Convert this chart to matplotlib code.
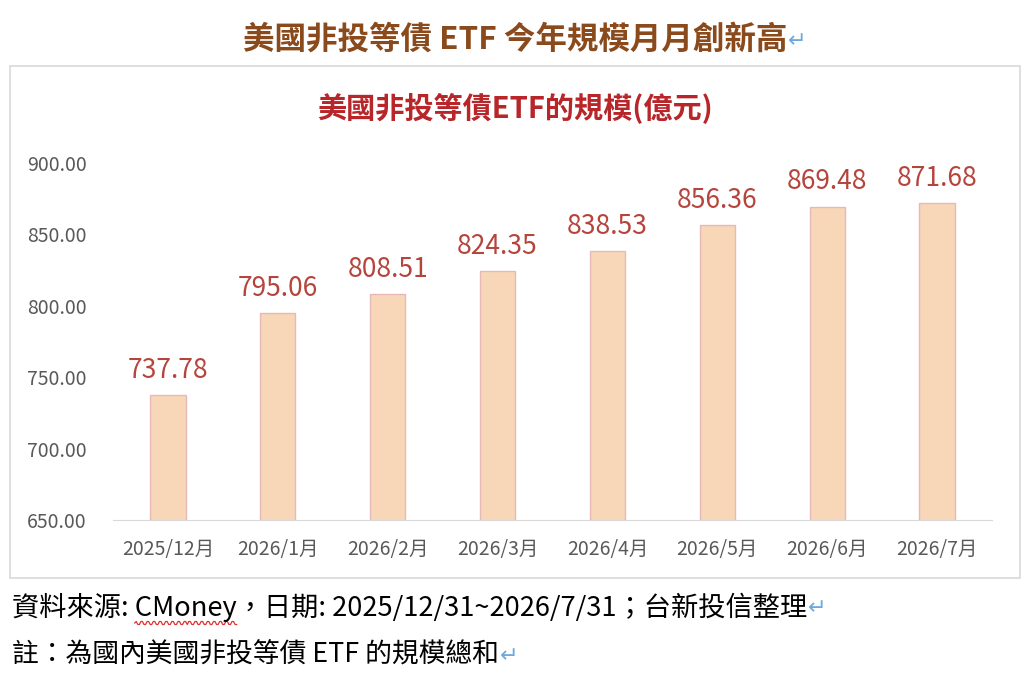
import matplotlib
matplotlib.use("Agg")
import matplotlib.pyplot as plt
import numpy as np
from matplotlib.patches import Rectangle
from matplotlib.lines import Line2D

plt.rcParams['font.family'] = ['Noto Sans CJK TC', 'DejaVu Sans']

categories = ["2025/12月", "2026/1月", "2026/2月", "2026/3月", "2026/4月", "2026/5月", "2026/6月", "2026/7月"]
values = [737.78, 795.06, 808.51, 824.35, 838.53, 856.36, 869.48, 871.68]
yticks = [650, 700, 750, 800, 850, 900]

fig = plt.figure(figsize=(10.24, 6.74), dpi=100)
W, H = 1024, 674

def fx(px): return px / W
def fy(py): return 1 - py / H

# outer chart frame
fig.patches.append(Rectangle((fx(10), fy(578)), fx(1010), (578 - 66) / H,
                             transform=fig.transFigure, fill=False,
                             edgecolor='#D9D9D9', linewidth=1.2))

renderer = fig.canvas.get_renderer()

def text_with_arrow(xp, yp, s, **kw):
    t = fig.text(fx(xp), fy(yp), s, ha='left', va='center', **kw)
    bb = t.get_window_extent(renderer=renderer)
    fig.text(bb.x1 / W + 0.001, fy(yp + 1), "↵", ha='left', va='center',
             fontsize=16, color='#6FA8DC', family=['DejaVu Sans'])
    return t

text_with_arrow(243, 40, "美國非投等債 ETF 今年規模月月創新高",
                fontsize=22.7, fontweight='bold', color='#8B4A1C')

ax = fig.add_axes([fx(113), fy(520), fx(992 - 113), (520 - 163) / H])
x = range(len(categories))
ax.bar(x, values, width=0.32, color='#F8D6B8', edgecolor='#E6B8B7', linewidth=1.0)
ax.set_ylim(650, 900)
ax.set_xlim(-0.5, len(categories) - 0.5)
ax.set_yticks(yticks)
ax.set_yticklabels([f"{v:.2f}" for v in yticks], fontsize=14, color='#595959')
ax.set_xticks(list(x))
ax.set_xticklabels(categories, fontsize=14, color='#595959')
for s in ['top', 'right', 'left']:
    ax.spines[s].set_visible(False)
ax.spines['bottom'].set_color('#D9D9D9')
ax.tick_params(axis='both', length=0)
ax.tick_params(axis='y', pad=19)
ax.tick_params(axis='x', pad=14)
for xi, v in zip(x, values):
    ax.annotate(f"{v:.2f}", (xi, v), xytext=(0, 8), textcoords='offset points',
                ha='center', va='bottom', fontsize=19, color='#B5443C')

fig.text(fx(515), fy(108), "美國非投等債ETF的規模(億元)", ha='center', va='center',
         fontsize=21, fontweight='bold', color='#B8262A')

text_with_arrow(12, 607, "資料來源: CMoney，日期: 2025/12/31~2026/7/31；台新投信整理",
                fontsize=19.6, color='black')
text_with_arrow(12, 655, "註：為國內美國非投等債 ETF 的規模總和",
                fontsize=19.3, color='black')

# red wavy underline under "CMoney"
tmp = fig.text(fx(12), fy(607), "資料來源: ", ha='left', va='center', fontsize=19.6, alpha=0)
tmp2 = fig.text(fx(12), fy(607), "資料來源: CMoney", ha='left', va='center', fontsize=19.6, alpha=0)
x0 = tmp.get_window_extent(renderer=renderer).x1
x1 = tmp2.get_window_extent(renderer=renderer).x1
xs = np.linspace(x0, x1, int((x1 - x0) / 1.5))
ys = (H - 623) + 1.5 * np.sign(np.sin((xs - x0) / 3.0 * np.pi))
fig.add_artist(Line2D(xs / W, ys / H, transform=fig.transFigure, color='#E03030', linewidth=0.9))

fig.savefig("out.png", dpi=100)
